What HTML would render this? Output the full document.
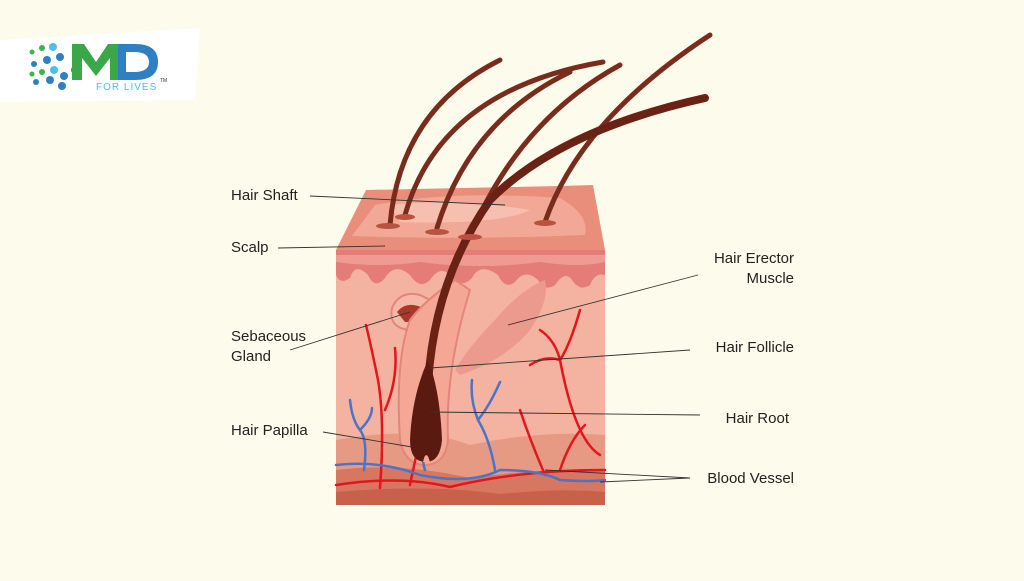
<!DOCTYPE html>
<html><head><meta charset="utf-8"><style>
html,body{margin:0;padding:0;background:#fdfbec;}
svg{display:block}
text{font-family:"Liberation Sans",sans-serif;font-size:15px;fill:#222;}
</style></head><body>
<svg width="1024" height="581" viewBox="0 0 1024 581">
<rect width="1024" height="581" fill="#fdfbec"/>
<!-- logo card -->
<polygon points="0,40 200,28 195,100 0,102" fill="#ffffff"/>
<g fill="#2e7fc4">
<circle cx="32" cy="52" r="2.5" fill="#3bb44a"/><circle cx="42" cy="48" r="3" fill="#3bb44a"/><circle cx="53" cy="47" r="4" fill="#4cc0e8"/>
<circle cx="34" cy="64" r="3"/><circle cx="47" cy="60" r="4"/><circle cx="60" cy="57" r="4"/>
<circle cx="32" cy="74" r="2.5" fill="#3bb44a"/><circle cx="42" cy="72" r="3" fill="#3bb44a"/><circle cx="54" cy="70" r="4" fill="#4cc0e8"/>
<circle cx="36" cy="82" r="3"/><circle cx="50" cy="80" r="4"/><circle cx="64" cy="76" r="4"/>
<circle cx="75" cy="70" r="4"/><circle cx="62" cy="86" r="4"/>
</g>
<path d="M72 80 L72 44 L84 44 L96 62 L108 44 L118 44 L118 80 L110 80 L110 58 L96 76 L82 58 L82 80 Z" fill="#3aa84a"/>
<path d="M118 44 L135 44 Q158 44 158 62 Q158 80 135 80 L118 80 Z M126 52 L126 72 L134 72 Q149 72 149 62 Q149 52 134 52 Z" fill="#2e7fc4" fill-rule="evenodd"/>
<text x="96" y="90" style="font-size:10px;fill:#4cc0e8;letter-spacing:1px">FOR LIVES</text>
<text x="160" y="82" style="font-size:5px;fill:#333">TM</text>

<!-- skin block -->
<rect x="336" y="250" width="269" height="255" fill="#f4b2a0"/>
<path d="M336 440 Q420 425 470 445 Q540 430 605 435 L605 505 L336 505 Z" fill="#e79a83"/>
<path d="M336 470 Q400 462 470 478 Q540 468 605 470 L605 505 L336 505 Z" fill="#d77761"/>
<path d="M336 492 Q430 484 500 494 Q560 488 605 492 L605 505 L336 505 Z" fill="#c8604a"/>
<!-- top face -->
<polygon points="336,250 366,190 560,186 593,185 605,250" fill="#e88e7a"/>
<path d="M375 205 Q450 190 560 198 Q590 215 585 235 Q460 240 352 236 Z" fill="#f1a896"/>
<path d="M390 205 Q460 198 530 210 Q500 225 400 222 Z" fill="#f6c0b0"/>
<!-- epidermis wavy -->
<path d="M336 250 L605 250 L605 275 Q595 272 590 285 Q580 292 572 280 Q565 270 555 285 Q545 292 538 280 Q525 268 515 282 Q505 290 498 275 Q480 262 472 278 Q460 290 450 275 Q440 265 430 280 Q420 290 410 275 Q395 262 385 278 Q375 290 368 275 Q355 262 350 278 Q340 285 336 275 Z" fill="#e57c78"/>
<path d="M336 255 L605 255 L605 262 Q580 268 540 262 Q480 270 420 262 Q380 268 336 262 Z" fill="#f09a94"/>
<!-- sebaceous gland -->
<path d="M392 308 Q400 290 420 295 Q430 300 440 305 L440 318 Q430 330 410 330 Q388 328 392 308 Z" fill="#f5b8a8" stroke="#e4857a" stroke-width="2"/>
<path d="M397 312 Q405 302 418 306 Q425 308 432 312 Q420 322 405 322 Z" fill="#a8392a"/>
<!-- follicle -->
<path d="M410 320 Q395 360 400 440 Q405 465 425 465 Q445 465 448 440 Q445 370 470 290 L455 280 Q425 300 410 320 Z" fill="#f4a795" stroke="#e4857a" stroke-width="2"/>
<!-- erector muscle -->
<path d="M455 370 Q470 345 495 320 Q520 290 545 280 Q550 300 530 330 Q505 360 460 375 Z" fill="#ec9a8d"/>
<!-- red vessels -->
<g fill="none" stroke="#e3161c" stroke-width="2.5" stroke-linecap="round">
<path d="M336 485 Q400 475 450 487 Q520 470 605 470"/>
<path d="M380 488 Q385 420 378 380 Q372 350 366 325"/>
<path d="M385 410 Q398 380 395 348"/>
<path d="M410 485 Q415 460 420 440"/>
<path d="M600 455 Q575 440 560 360 Q555 340 540 330"/>
<path d="M560 360 Q570 345 580 310"/>
<path d="M560 360 Q545 355 530 365"/>
<path d="M545 475 Q530 440 520 410"/>
<path d="M560 470 Q570 440 585 425"/>
</g>
<!-- blue vessels -->
<g fill="none" stroke="#4a74c9" stroke-width="2.5" stroke-linecap="round">
<path d="M336 465 Q380 460 420 475 Q470 485 500 470 Q540 470 560 480 Q590 482 605 480"/>
<path d="M364 470 Q368 440 360 430 Q352 420 350 400"/>
<path d="M360 430 Q372 418 372 408"/>
<path d="M495 470 Q490 440 478 420 Q470 400 472 380"/>
<path d="M478 420 Q490 405 500 382"/>
<path d="M425 470 Q420 455 428 440"/>
</g>
<!-- hairs -->
<g fill="none" stroke-linecap="round">
<path d="M390 225 Q400 110 500 60" stroke="#7a2c1c" stroke-width="5"/>
<path d="M405 215 Q440 90 603 62" stroke="#7a2c1c" stroke-width="5"/>
<path d="M437 228 Q470 120 570 72" stroke="#7a2c1c" stroke-width="5"/>
<path d="M472 232 Q520 120 620 65" stroke="#7a2c1c" stroke-width="5"/>
<path d="M545 222 Q580 120 710 35" stroke="#7a2c1c" stroke-width="5"/>
<path d="M428 440 Q420 300 490 200 Q560 130 705 98" stroke="#6a2214" stroke-width="8"/>
</g>
<path d="M410 440 Q412 395 428 360 Q440 390 442 440 Q440 462 426 462 Q410 462 410 440 Z" fill="#5a1a10"/>
<path d="M423 462 Q426 448 430 462 Z" fill="#f4a795"/>
<g fill="#b9533f">
<ellipse cx="388" cy="226" rx="12" ry="3"/><ellipse cx="405" cy="217" rx="10" ry="3"/><ellipse cx="437" cy="232" rx="12" ry="3"/><ellipse cx="470" cy="237" rx="12" ry="3"/><ellipse cx="545" cy="223" rx="11" ry="3"/>
</g>
<!-- leader lines -->
<g stroke="#333" stroke-width="0.9" fill="none">
<line x1="310" y1="196" x2="505" y2="205"/>
<line x1="278" y1="248" x2="385" y2="246"/>
<line x1="290" y1="350" x2="410" y2="312"/>
<line x1="323" y1="432" x2="412" y2="447"/>
<line x1="698" y1="275" x2="508" y2="325"/>
<line x1="690" y1="350" x2="430" y2="368"/>
<line x1="700" y1="415" x2="430" y2="412"/>
<line x1="690" y1="478" x2="545" y2="470"/>
<line x1="690" y1="478" x2="600" y2="482"/>
</g>
<!-- labels -->
<text x="231" y="200">Hair Shaft</text>
<text x="231" y="252">Scalp</text>
<text x="231" y="341">Sebaceous</text>
<text x="231" y="361">Gland</text>
<text x="231" y="435">Hair Papilla</text>
<text x="794" y="263" text-anchor="end">Hair Erector</text>
<text x="794" y="283" text-anchor="end">Muscle</text>
<text x="794" y="352" text-anchor="end">Hair Follicle</text>
<text x="789" y="423" text-anchor="end">Hair Root</text>
<text x="794" y="483" text-anchor="end">Blood Vessel</text>
</svg>
</body></html>
